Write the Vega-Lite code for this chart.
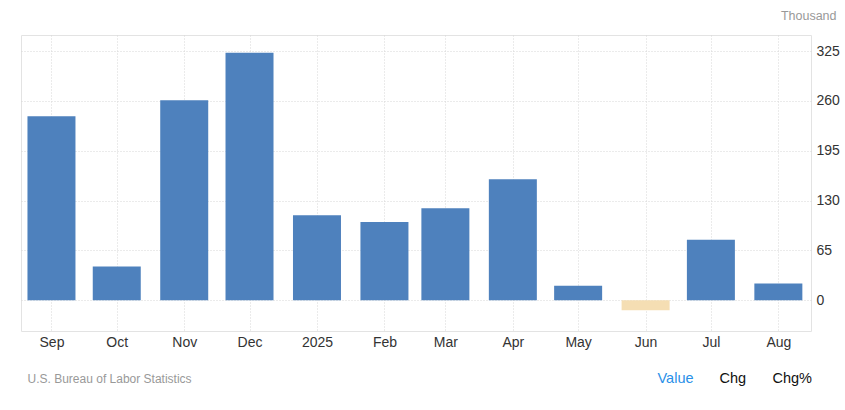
{
  "$schema": "https://vega.github.io/schema/vega-lite/v6.json",
  "width": 790,
  "height": 296,
  "autosize": {"type": "none"},
  "padding": {"left": 21, "top": 35, "right": 34, "bottom": 79},
  "background": "#ffffff",
  "config": {
    "font": "Liberation Sans",
    "view": {"stroke": "#e3e3e3", "strokeWidth": 1}
  },
  "layer": [
    {
      "data": {
        "values": [
          {"date": "2024-09-01", "value": 240},
          {"date": "2024-10-01", "value": 44},
          {"date": "2024-11-01", "value": 261},
          {"date": "2024-12-01", "value": 323},
          {"date": "2025-01-01", "value": 111},
          {"date": "2025-02-01", "value": 102},
          {"date": "2025-03-01", "value": 120},
          {"date": "2025-04-01", "value": 158},
          {"date": "2025-05-01", "value": 19},
          {"date": "2025-06-01", "value": -13},
          {"date": "2025-07-01", "value": 79},
          {"date": "2025-08-01", "value": 22}
        ]
      },
      "mark": {"type": "bar", "size": 48},
      "encoding": {
        "x": {
          "field": "date",
          "type": "temporal",
          "scale": {
            "type": "utc",
            "nice": false,
            "padding": 0,
            "domain": [
              {"year": 2024, "month": 8, "date": 18, "utc": true},
              {"year": 2025, "month": 8, "date": 16, "utc": true}
            ]
          },
          "axis": {
            "title": "U.S. Bureau of Labor Statistics",
            "titleAlign": "left",
            "titleBaseline": "middle",
            "titleX": 6,
            "titleY": 47,
            "titleFontSize": 12,
            "titleFontWeight": "normal",
            "titleColor": "#999999",
            "tickCount": {"interval": "month", "step": 1},
            "labelExpr": "utcmonth(datum.value) == 0 ? utcFormat(datum.value, '%Y') : utcFormat(datum.value, '%b')",
            "labelFontSize": 14,
            "labelColor": "#333333",
            "labelPadding": 4,
            "labelFlush": false,
            "labelOverlap": false,
            "domain": false,
            "ticks": false,
            "grid": true,
            "gridColor": "#d6d6d6",
            "gridDash": [1, 2]
          }
        },
        "y": {
          "field": "value",
          "type": "quantitative",
          "scale": {"domain": [-40, 346], "nice": false, "zero": false},
          "axis": {
            "orient": "right",
            "values": [0, 65, 130, 195, 260, 325],
            "title": "Thousand",
            "titleAngle": 0,
            "titleAlign": "right",
            "titleBaseline": "middle",
            "titleX": 25,
            "titleY": -20,
            "titleFontSize": 12.5,
            "titleFontWeight": "normal",
            "titleColor": "#999999",
            "labelFontSize": 14,
            "labelColor": "#333333",
            "labelPadding": 5,
            "domain": false,
            "ticks": false,
            "grid": true,
            "gridColor": "#d6d6d6",
            "gridDash": [1, 2]
          }
        },
        "color": {
          "condition": {"test": "datum.value < 0", "value": "#f5deb3"},
          "value": "#4e81bd"
        }
      }
    },
    {
      "data": {
        "values": [
          {"tab": "Value"},
          {"tab": "Chg"},
          {"tab": "Chg%"}
        ]
      },
      "mark": {"type": "text", "text": ""},
      "encoding": {
        "color": {
          "field": "tab",
          "type": "nominal",
          "scale": {"domain": ["Value", "Chg", "Chg%"], "range": ["#2a90e8", "#111111", "#111111"]},
          "legend": {
            "title": null,
            "orient": "none",
            "direction": "horizontal",
            "legendX": 622,
            "legendY": 337,
            "symbolSize": 0,
            "symbolOpacity": 0,
            "symbolStrokeWidth": 0,
            "labelOffset": 0,
            "columnPadding": 11,
            "labelFontSize": 14.5,
            "labelLimit": 0,
            "labelColor": {"expr": "datum.label == 'Value' ? '#2a90e8' : '#111111'"}
          }
        }
      }
    }
  ]
}
